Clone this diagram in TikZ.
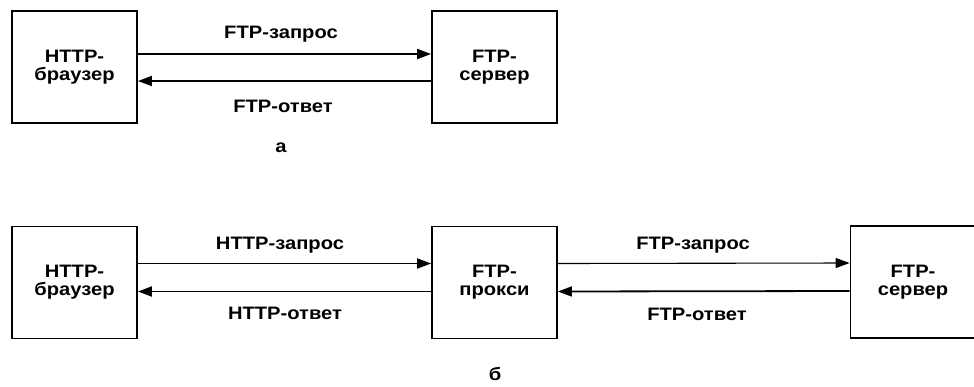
\documentclass[tikz,border=0pt]{standalone}
\usepackage{fontspec}
\setmainfont{Liberation Sans}[FakeStretch=1.12]
\usetikzlibrary{arrows.meta,positioning}
\tikzset{
  blk/.style={draw,line width=1.8pt,minimum width=125pt,minimum height=112pt,
    align=center,font=\fontsize{18}{18}\selectfont\bfseries,inner sep=0pt},
  msg/.style={line width=1.8pt,-{Triangle[length=14pt,width=10pt]}},
  lbl/.style={font=\fontsize{18}{18}\selectfont\bfseries,inner sep=0pt}
}
\begin{document}
\begin{tikzpicture}[x=1pt,y=-1pt]
    \useasboundingbox (0,0) rectangle (974,386);
    % a
    \node[blk] (brA) at (74.5,67) {HTTP-\\браузер};
    \node[blk] (srvA) at (494.5,67) {FTP-\\сервер};
    \draw[msg] ([yshift=13pt]brA.east) -- ([yshift=13pt]srvA.west);
    \draw[msg] ([yshift=-14pt]srvA.west) -- ([yshift=-14pt]brA.east);
    \node[lbl] (qA) at (281,34) {FTP-запрос};
    \node[lbl] (rA) at (283,106) {FTP-ответ};
    \node[lbl] (capA) at (281,148) {а};
    % b
    \node[blk] (brB) at (74.5,282.5) {HTTP-\\браузер};
    \node[blk] (prxB) at (494.5,282.5) {FTP-\\прокси};
    \node[blk] (srvB) at (913,282) {FTP-\\сервер};
    \draw[msg] ([yshift=19pt]brB.east) -- ([yshift=19pt]prxB.west);
    \draw[msg] ([yshift=-9pt]prxB.west) -- ([yshift=-9pt]brB.east);
    \draw[msg,line width=1.1pt] ([yshift=19pt]prxB.east) -- ([yshift=19pt]srvB.west);
    \draw[msg] ([yshift=-9pt]srvB.west) -- ([yshift=-9pt]prxB.east);
    \node[lbl] (qB) at (280,245) {HTTP-запрос};
    \node[lbl] (rB) at (285,313) {HTTP-ответ};
    \node[lbl] (qC) at (693,245) {FTP-запрос};
    \node[lbl] (rC) at (697,314) {FTP-ответ};
    \node[lbl] (capB) at (495,374) {б};
\end{tikzpicture}
\end{document}
